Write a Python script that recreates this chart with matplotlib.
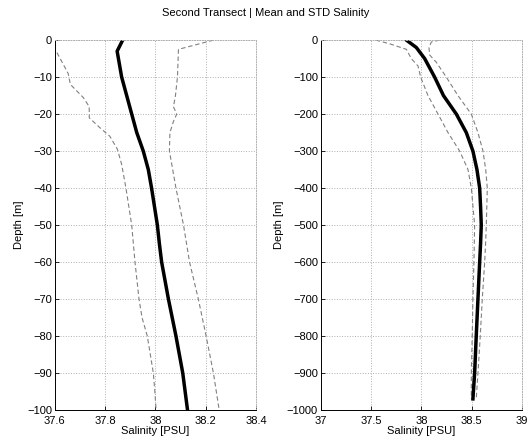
import numpy as np
import matplotlib as mpl
mpl.use('Agg')
import matplotlib.pyplot as plt

mpl.rcParams['font.family'] = 'Liberation Sans'
mpl.rcParams['font.size'] = 8

# left panel: upper 100 m
d1_mean = [0, -3, -10, -15, -20, -25, -30, -35, -40, -50, -55, -60, -70, -80, -90, -100]
s1_mean = [37.870, 37.848, 37.866, 37.886, 37.906, 37.926, 37.952, 37.972, 37.985, 38.008, 38.016,
           38.025, 38.052, 38.082, 38.109, 38.128]
d1_lo = [0, -2.3, -9, -12, -15.5, -18, -21, -23.6, -26, -29.5, -33.6, -40, -50, -60, -70, -75, -80, -90, -95, -100]
s1_lo = [37.58, 37.600, 37.653, 37.662, 37.713, 37.737, 37.737, 37.778, 37.819, 37.849, 37.866, 37.883,
         37.906, 37.919, 37.935, 37.947, 37.968, 37.992, 37.998, 38.003]
d1_hi = [0, -2.5, -10, -15, -18, -20, -22, -25, -30, -35, -40, -50, -60, -70, -80, -90, -100]
s1_hi = [38.231, 38.092, 38.088, 38.080, 38.072, 38.085, 38.072, 38.058, 38.056, 38.069, 38.082, 38.112,
         38.136, 38.171, 38.202, 38.231, 38.254]

# right panel: full depth
d2_mean = [0, -20, -50, -100, -150, -200, -250, -300, -350, -400, -450, -500, -550, -600, -700, -800, -900, -970]
s2_mean = [37.851, 37.95, 38.033, 38.132, 38.22, 38.348, 38.447, 38.513, 38.553, 38.58, 38.589, 38.596,
           38.589, 38.58, 38.563, 38.546, 38.530, 38.513]
d2_lo = [0, -10, -25, -50, -70, -100, -150, -200, -250, -300, -350, -400, -500, -600, -700, -800, -900, -970]
s2_lo = [37.546, 37.685, 37.851, 37.90, 37.967, 37.993, 38.066, 38.166, 38.265, 38.381, 38.464, 38.497,
         38.53, 38.523, 38.513, 38.506, 38.497, 38.497]
d2_hi = [0, -5, -20, -40, -60, -100, -150, -200, -250, -300, -350, -400, -500, -550, -600, -700, -800, -900, -970]
s2_hi = [38.182, 38.10, 38.076, 38.082, 38.149, 38.248, 38.364, 38.497, 38.563, 38.613, 38.640, 38.656,
         38.646, 38.639, 38.63, 38.606, 38.586, 38.563, 38.546]

fig = plt.figure(figsize=(5.32, 4.43), dpi=100)
ax1 = fig.add_axes([0.103, 0.0745, 0.378, 0.835])
ax2 = fig.add_axes([0.603, 0.0745, 0.378, 0.835])

for ax, (dm, sm, dl, sl, dh, sh) in [(ax1, (d1_mean, s1_mean, d1_lo, s1_lo, d1_hi, s1_hi)),
                                     (ax2, (d2_mean, s2_mean, d2_lo, s2_lo, d2_hi, s2_hi))]:
    ax.plot(sl, dl, '--', color='#808080', lw=0.8, dashes=(4, 2.5))
    ax.plot(sh, dh, '--', color='#808080', lw=0.8, dashes=(4, 2.5))
    ax.plot(sm, dm, '-', color='k', lw=2.5)
    ax.grid(True, linestyle=':', color='#b0b0b0', lw=0.7)
    ax.tick_params(direction='in', length=3, width=0.6)
    ax.tick_params(axis='x', pad=4)
    ax.tick_params(axis='y', pad=2)
    for side in ['left', 'bottom']:
        ax.spines[side].set_linewidth(0.7)
    for side in ['top', 'right']:
        ax.spines[side].set_color('#b0b0b0')
        ax.spines[side].set_linestyle(':')
        ax.spines[side].set_linewidth(0.7)
    ax.set_xlabel('Salinity [PSU]', labelpad=0)
    ax.set_ylabel('Depth [m]', labelpad=2)

ax1.set_xlim(37.6, 38.4)
ax1.set_ylim(-100, 0)
ax1.set_xticks([37.6, 37.8, 38.0, 38.2, 38.4])
ax1.set_xticklabels(['37.6', '37.8', '38', '38.2', '38.4'])
ax1.set_yticks(np.arange(-100, 1, 10))

ax2.set_xlim(37, 39)
ax2.set_ylim(-1000, 0)
ax2.set_xticks([37, 37.5, 38, 38.5, 39])
ax2.set_xticklabels(['37', '37.5', '38', '38.5', '39'])
ax2.set_yticks(np.arange(-1000, 1, 100))

fig.text(0.5, 0.97, 'Second Transect | Mean and STD Salinity', ha='center', va='center', fontsize=8)

fig.savefig('out.png', dpi=100)
